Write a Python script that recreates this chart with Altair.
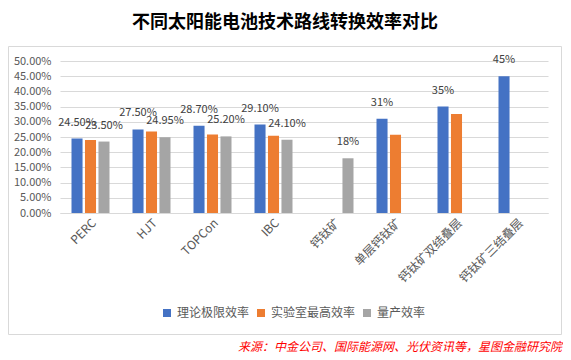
import altair as alt
import pandas as pd

categories = ["PERC", "HJT", "TOPCon", "IBC", "钙钛矿", "单层钙钛矿", "钙钛矿双结叠层", "钙钛矿三结叠层"]
series_names = ["理论极限效率", "实验室最高效率", "量产效率"]
series_colors = ["#4472C4", "#ED7D31", "#A5A5A5"]

# values in percent (None = no bar)
theory = [24.5, 27.5, 28.7, 29.1, None, 31.0, 35.0, 45.0]
lab = [24.0, 26.8, 25.8, 25.4, None, 25.7, 32.6, None]
mass = [23.5, 24.95, 25.2, 24.1, 18.0, None, None, None]

# visible data labels: (category, series, text)
label_cats = ["PERC", "PERC", "HJT", "HJT", "TOPCon", "TOPCon", "IBC", "IBC",
              "钙钛矿", "单层钙钛矿", "钙钛矿双结叠层", "钙钛矿三结叠层"]
label_series = ["理论极限效率", "量产效率", "理论极限效率", "量产效率", "理论极限效率", "量产效率",
                "理论极限效率", "量产效率", "量产效率", "理论极限效率", "理论极限效率", "理论极限效率"]
label_texts = ["24.50%", "23.50%", "27.50%", "24.95%", "28.70%", "25.20%", "29.10%", "24.10%",
               "18%", "31%", "35%", "45%"]

y_ticks = [0, 0.05, 0.10, 0.15, 0.20, 0.25, 0.30, 0.35, 0.40, 0.45, 0.50]

title_text = "不同太阳能电池技术路线转换效率对比"
source_text = "来源：中金公司、国际能源网、光伏资讯等，星图金融研究院"

FONT = "Noto Sans CJK SC"

rows = []
for s, vals in zip(series_names, [theory, lab, mass]):
    for c, v in zip(categories, vals):
        if v is not None:
            rows.append({"cat": c, "series": s, "value": v / 100})
bars_df = pd.DataFrame(rows)

lookup = {(r["cat"], r["series"]): r["value"] for r in rows}
labels_df = pd.DataFrame({
    "cat": label_cats,
    "series": label_series,
    "text": label_texts,
    "value": [lookup[(c, s)] for c, s in zip(label_cats, label_series)],
})

x_axis = alt.Axis(title=None, labelAngle=-45, labelFontSize=12, labelColor="#595959",
                  labelFont=FONT, ticks=False, domainColor="#d9d9d9", labelPadding=4,
                  grid=False, labelOverlap=False)
y_axis = alt.Axis(title=None, format=".2%", values=y_ticks, grid=True,
                  gridColor="#d9d9d9", domain=False, ticks=False, labelPadding=9,
                  labelFontSize=11, labelColor="#595959", labelFont=FONT,
                  labelOverlap=False, labelBound=False, labelFlush=False)
x_scale = alt.Scale(domain=categories, paddingInner=0.377, paddingOuter=0.1885)
xoff_scale = alt.Scale(domain=series_names, paddingInner=0.18, paddingOuter=0)
y_scale = alt.Scale(domain=[0, 0.5], nice=False, zero=True)


def enc_x():
    return alt.X("cat:N", sort=categories, scale=x_scale, axis=x_axis)


def enc_xoff():
    return alt.XOffset("series:N", sort=series_names, scale=xoff_scale)


def enc_y():
    return alt.Y("value:Q", scale=y_scale, axis=y_axis)


bars = alt.Chart(bars_df).mark_bar().encode(
    x=enc_x(),
    xOffset=enc_xoff(),
    y=enc_y(),
    color=alt.Color("series:N", sort=series_names,
                    scale=alt.Scale(domain=series_names, range=series_colors),
                    legend=alt.Legend(title=None, orient="none", legendX=101, legendY=246,
                                      direction="horizontal", symbolType="square", symbolSize=64,
                                      symbolStrokeWidth=0, labelFontSize=12, labelColor="#595959",
                                      labelFont=FONT, columnPadding=5, labelOffset=4)),
)

texts = alt.Chart(labels_df).mark_text(baseline="middle", dy=-16, fontSize=11, color="#404040",
                                       font=FONT).encode(
    x=enc_x(),
    xOffset=enc_xoff(),
    y=enc_y(),
    text="text:N",
)

frame_df = pd.DataFrame({"k": [0]})
frame = alt.Chart(frame_df).mark_rect(fill=None, stroke="#d9d9d9", strokeWidth=1).encode(
    x=alt.value(-51.5), x2=alt.value(501.5), y=alt.value(-14.5), y2=alt.value(273.5))

title = alt.Chart(pd.DataFrame({"t": [title_text]})).mark_text(
    fontSize=18, fontWeight="bold", color="#000000", font=FONT, align="center", baseline="middle"
).encode(x=alt.value(225), y=alt.value(-38), text="t:N")

source = alt.Chart(pd.DataFrame({"t": [source_text]})).mark_text(
    fontSize=12, fontStyle="italic", color="#FF0000", font=FONT, align="right", baseline="middle"
).encode(x=alt.value(502), y=alt.value(286), text="t:N")

chart = alt.layer(frame, bars, texts, title, source).properties(
    width=488, height=152,
    padding={"left": 52, "top": 53, "right": 15, "bottom": 143},
    autosize=alt.AutoSizeParams(type="none"),
    background="white",
).configure_view(stroke=None)

chart.save("out.html", embed_options={"renderer": "svg", "actions": False})
